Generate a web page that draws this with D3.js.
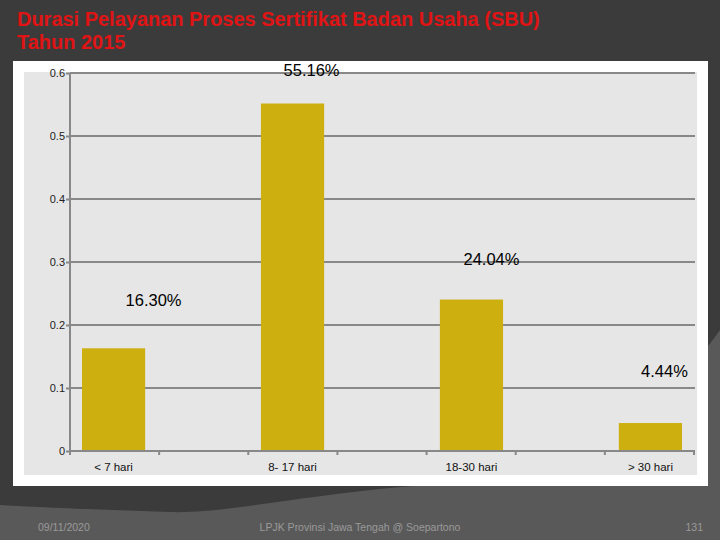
<!DOCTYPE html>
<html><head><meta charset="utf-8">
<script src="https://cdn.jsdelivr.net/npm/d3@7"></script>
<style>html,body{margin:0;padding:0;background:#595959;}svg{display:block;}</style>
</head><body>
<script>
// ---- data ----
const titleLines = ["Durasi Pelayanan Proses Sertifikat Badan Usaha (SBU)", "Tahun 2015"];
const categories = ["< 7 hari", "8- 17 hari", "18-30 hari", "> 30 hari"];
const values = [0.1630, 0.5516, 0.2404, 0.0444];
const valueLabels = ["16.30%", "55.16%", "24.04%", "4.44%"];
const yTicks = [0, 0.1, 0.2, 0.3, 0.4, 0.5, 0.6];
const footerLeft = "09/11/2020";
const footerCenter = "LPJK Provinsi Jawa Tengah @ Soepartono";
const footerRight = "131";

// ---- layout ----
const W = 720, H = 540;
const labelDx = [40, 19, 20, 14];
const labelDy = [-42, -27, -35, -46];
const font = "'Liberation Sans', Arial, sans-serif";

const svg = d3.select("body").append("svg").attr("width", W).attr("height", H);

// background
svg.append("rect").attr("width", W).attr("height", H).attr("fill", "#595959");
svg.append("path")
  .attr("d", "M0,0 H720 V330 C650,430 520,480 400,487 C300,496 220,514 170,512 C110,510 50,508 0,505 Z")
  .attr("fill", "#3b3b3b");

// title
const title = svg.append("g");
titleLines.forEach((t, i) => {
  title.append("text").attr("x", 17).attr("y", 26 + i * 23)
    .attr("font-family", font).attr("font-weight", "bold").attr("font-size", 18)
    .attr("fill", "#e01414").text(t);
});
const t0 = title.select("text").node();
const len = t0.getComputedTextLength();
if (len > 0) {
  const fs = 18 * 523 / len;
  title.selectAll("text").attr("font-size", fs);
}

// white panel and gray plot area
svg.append("rect").attr("x", 13).attr("y", 61).attr("width", 695).attr("height", 425).attr("fill", "#ffffff");
svg.append("rect").attr("x", 24).attr("y", 72).attr("width", 673).attr("height", 403).attr("fill", "#e6e6e6");

// scales
const y = d3.scaleLinear().domain([0, 0.6]).range([451, 73]);
const x = d3.scaleBand().domain(categories).range([70, 694])
  .paddingInner(0.647).paddingOuter(0.067);

const axisColor = "#888888";

// gridlines
svg.append("g").selectAll("line").data(yTicks.filter(d => d > 0)).join("line")
  .attr("x1", 70).attr("x2", 695).attr("y1", d => y(d)).attr("y2", d => y(d))
  .attr("stroke", axisColor).attr("stroke-width", 2);

// bars
svg.append("g").selectAll("rect").data(values).join("rect")
  .attr("x", (d, i) => x(categories[i]))
  .attr("y", d => y(d))
  .attr("width", x.bandwidth())
  .attr("height", d => y(0) - y(d))
  .attr("fill", "#cdb010");

// y axis
const yAxis = d3.axisLeft(y).tickValues(yTicks).tickSize(4).tickPadding(1)
  .tickFormat(d => d === 0 ? "0" : d3.format(".1f")(d));
const ya = svg.append("g").attr("transform", "translate(70,0)").call(yAxis);
ya.select(".domain").attr("stroke", axisColor).attr("stroke-width", 2).attr("d", `M0,${y(0.6)}V${y(0)}`);
ya.selectAll(".tick line").attr("stroke", axisColor).attr("stroke-width", 2);
ya.selectAll(".tick text").attr("font-family", font).attr("font-size", 11).attr("fill", "#222").attr("dy", "0.35em");

// x axis line with ticks
const [r0, r1] = x.range();
const nTicks = categories.length * 2 - 1;
const tickXs = d3.range(nTicks + 1).map(i => r0 + i * (r1 - r0) / nTicks);
svg.append("line").attr("x1", 70).attr("x2", 695).attr("y1", y(0)).attr("y2", y(0))
  .attr("stroke", axisColor).attr("stroke-width", 2);
svg.append("g").selectAll("line").data(tickXs).join("line")
  .attr("x1", d => d).attr("x2", d => d).attr("y1", y(0)).attr("y2", y(0) + 4)
  .attr("stroke", axisColor).attr("stroke-width", 2);

// category labels
svg.append("g").selectAll("text").data(categories).join("text")
  .attr("x", d => x(d) + x.bandwidth() / 2).attr("y", 471)
  .attr("text-anchor", "middle").attr("font-family", font).attr("font-size", 11.5)
  .attr("fill", "#111").text(d => d);

// value labels
svg.append("g").selectAll("text").data(values).join("text")
  .attr("x", (d, i) => x(categories[i]) + x.bandwidth() / 2 + labelDx[i])
  .attr("y", (d, i) => y(d) + labelDy[i])
  .attr("text-anchor", "middle").attr("font-family", font).attr("font-size", 16.5)
  .attr("fill", "#000").text((d, i) => valueLabels[i]);

// footer
const ff = svg.append("g").attr("font-family", font).attr("font-size", 10.5).attr("fill", "#9a9a9a");
ff.append("text").attr("x", 38).attr("y", 531).text(footerLeft);
ff.append("text").attr("x", 360).attr("y", 531).attr("text-anchor", "middle").text(footerCenter);
ff.append("text").attr("x", 703).attr("y", 531).attr("text-anchor", "end").text(footerRight);
</script>
</body></html>
